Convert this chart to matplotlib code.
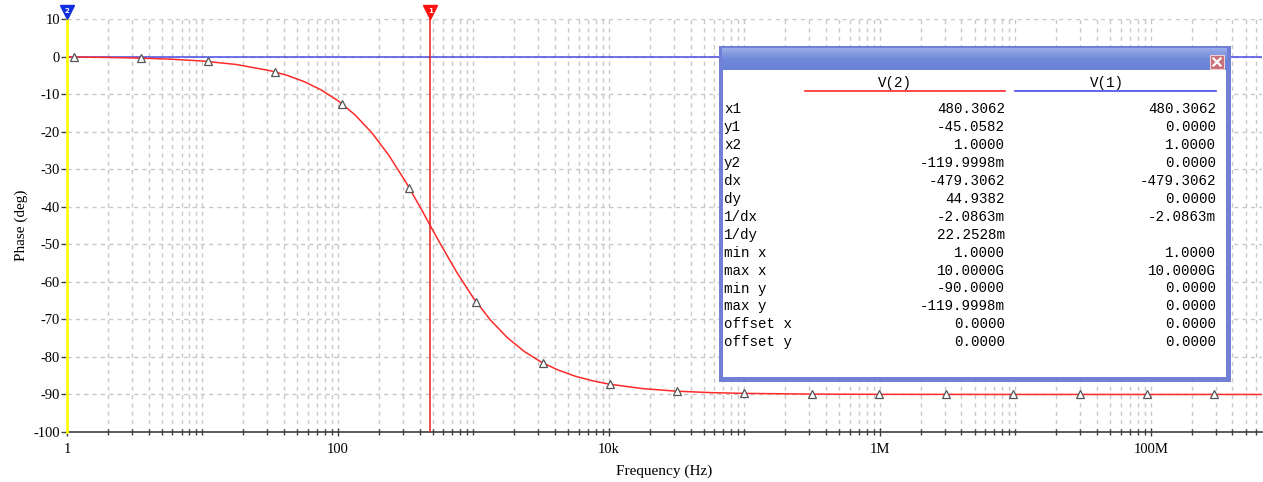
import numpy as np
import matplotlib
matplotlib.use("Agg")
import matplotlib.pyplot as plt
from matplotlib.patches import Rectangle
from matplotlib.ticker import FixedLocator, FixedFormatter, NullFormatter

plt.rcParams['axes.unicode_minus'] = False

# trace V(2): phase
freq = [1, 1.78, 3.16, 5.62, 10, 17.8, 31.6, 42.2, 56.2, 75.0, 100, 133.4, 178,
        237.1, 316, 421.7, 480.3, 562, 749.9, 1000, 1334, 1780, 2371, 3160, 4217,
        5620, 7499, 10000, 17783, 31600, 56234, 1e5, 3.16e5, 1e6, 1e7, 1e8, 6.6e8]
phase_v2 = [-0.12, -0.21, -0.38, -0.67, -1.19, -2.12, -3.77, -5.02, -6.67, -8.87,
            -11.76, -15.52, -20.32, -26.28, -33.36, -41.29, -45.06, -49.51, -57.36,
            -64.35, -70.19, -74.89, -78.55, -81.37, -83.50, -85.12, -86.33, -87.25,
            -88.45, -89.13, -89.51, -89.72, -89.91, -89.97, -90.0, -90.0, -90.0]
# triangle markers on the V(2) trace
mark_freq = [1.12, 3.51, 11.0, 34.3, 107, 335, 1047, 3273, 10233, 31989, 1e5,
             3.13e5, 9.77e5, 3.05e6, 9.55e6, 2.99e7, 9.33e7, 2.92e8]
mark_phase = [-0.13, -0.42, -1.31, -4.08, -12.6, -34.9, -65.4, -81.6, -87.3, -89.14,
              -89.72, -89.91, -89.97, -90.0, -90.0, -90.0, -90.0, -90.0]
# trace V(1)
phase_v1 = 0.0
# cursors
cursor1 = 480.3062
cursor2 = 1.0

xticks = [1, 100, 1e4, 1e6, 1e8]
xticklabels = ['1', '100', '10k', '1M', '100M']
yticks = list(range(-100, 11, 10))

# cursor readout table
rows = ['x1', 'y1', 'x2', 'y2', 'dx', 'dy', '1/dx', '1/dy', 'min x', 'max x',
        'min y', 'max y', 'offset x', 'offset y']
vals_v2 = ['480.3062', '-45.0582', '1.0000', '-119.9998m', '-479.3062', '44.9382',
           '-2.0863m', '22.2528m', '1.0000', '10.0000G', '-90.0000', '-119.9998m',
           '0.0000', '0.0000']
vals_v1 = ['480.3062', '0.0000', '1.0000', '0.0000', '-479.3062', '0.0000',
           '-2.0863m', '', '1.0000', '10.0000G', '0.0000', '0.0000',
           '0.0000', '0.0000']

W, H = 1263, 482
fig = plt.figure(figsize=(W / 100, H / 100), dpi=100)
ax = fig.add_axes([67 / W, 50 / H, (1262 - 67) / W, (432 - 19) / H])

ax.set_xscale('log')
ax.set_xlim(1, 10 ** 8.82)
ax.set_ylim(-100, 10)

# grid
minor = [m * 10 ** e for e in range(0, 9) for m in range(1, 10)]
for f in minor:
    if f > 1:
        ax.axvline(f, color='#c8c8c8', lw=1, ls=(0, (3, 3)), zorder=0)
for y in yticks:
    if y > -100:
        ax.axhline(y, color='#c8c8c8', lw=1, ls=(0, (3, 3)), zorder=0)

# traces
ax.axhline(phase_v1, color='#4a4ae6', lw=1.1, zorder=2)
ax.plot(freq, phase_v2, color='#ff2a2a', lw=1.1, zorder=3)
ax.plot(mark_freq, mark_phase, ls='none', marker='^', ms=6, mfc='white',
        mec='#555555', mew=0.9, zorder=4)

# cursors
ax.axvline(cursor2, color='#ffff00', lw=2, zorder=5, clip_on=False)
ax.axvline(cursor1, color='#e82020', lw=1.1, zorder=5)
ax.plot([cursor1, cursor1], [10, 11.8], color='#e82020', lw=1.1, clip_on=False, zorder=5)
ax.plot([cursor2, cursor2], [10, 11.8], color='#ffff00', lw=2, clip_on=False, zorder=5)
ax.plot([cursor1], [11.9], marker='v', ms=10, color='#ff1010', clip_on=False, zorder=6)
ax.text(cursor1, 12.1, '1', color='white', fontsize=5, ha='center', va='center',
        fontweight='bold', clip_on=False, zorder=7)
ax.plot([cursor2], [11.9], marker='v', ms=10, color='#1030e0', clip_on=False, zorder=6)
ax.text(cursor2, 12.1, '2', color='white', fontsize=5, ha='center', va='center',
        fontweight='bold', clip_on=False, zorder=7)

# axes styling
for s in ['top', 'right', 'left']:
    ax.spines[s].set_visible(False)
ax.spines['bottom'].set_color('#404040')
ax.spines['bottom'].set_linewidth(1.2)

ax.xaxis.set_major_locator(FixedLocator(xticks))
ax.xaxis.set_major_formatter(FixedFormatter(xticklabels))
ax.xaxis.set_minor_locator(FixedLocator([f for f in minor if f not in xticks]))
ax.xaxis.set_minor_formatter(NullFormatter())
ax.tick_params(axis='x', which='major', direction='inout', length=6, width=1,
               color='#404040', labelsize=10.5, pad=5)
ax.tick_params(axis='x', which='minor', direction='inout', length=4, width=1,
               color='#404040')
ax.set_yticks(yticks)
ax.tick_params(axis='y', direction='out', length=4, width=1, color='#404040',
               labelsize=10.5, pad=1)
for lab in ax.get_xticklabels() + ax.get_yticklabels():
    lab.set_family('Liberation Serif')

ax.set_xlabel('Frequency (Hz)', family='Liberation Serif', fontsize=11, labelpad=6)
ax.set_ylabel('Phase (deg)', family='Liberation Serif', fontsize=11, labelpad=4)

# cursor readout window
bx0, by0, bx1, by1 = 719, 46, 1231, 382
bw, bh = bx1 - bx0, by1 - by0
box = fig.add_axes([bx0 / W, 1 - by1 / H, bw / W, bh / H])
box.set_xlim(0, bw)
box.set_ylim(bh, 0)
box.axis('off')
box.add_patch(Rectangle((0, 0), bw, bh, fc='#6f80d6', ec='none'))
grad = np.linspace(0, 1, 64).reshape(-1, 1)
box.imshow(grad, cmap=matplotlib.colors.LinearSegmentedColormap.from_list(
    'tb', ['#9aaee8', '#7088da', '#6a82d6']), extent=(3, bw - 4, 24, 2),
    aspect='auto', zorder=1)
box.add_patch(Rectangle((4, 24), bw - 9, bh - 29, fc='white', ec='none', zorder=2))
box.add_patch(Rectangle((491, 9), 14, 14, fc='#c8707a', ec='#f0d0d0', lw=0.8, zorder=3))
box.plot([494.5, 501.5], [12.5, 19.5], color='white', lw=1.6, zorder=4)
box.plot([494.5, 501.5], [19.5, 12.5], color='white', lw=1.6, zorder=4)

mono = 'Liberation Mono'
box.text(176, 37, 'V(2)', family=mono, fontsize=10.2, ha='center', va='center', zorder=5)
box.plot([86, 286], [45, 45], color='#ff2a2a', lw=1.2, zorder=5)
box.text(388, 37, 'V(1)', family=mono, fontsize=10.2, ha='center', va='center', zorder=5)
box.plot([296, 497], [45, 45], color='#4a4ae6', lw=1.2, zorder=5)
for i, name in enumerate(rows):
    y = 63 + i * 17.95
    box.text(5, y, name, family=mono, fontsize=10.2, ha='left', va='center', zorder=5)
    box.text(286, y, vals_v2[i], family=mono, fontsize=10.2, ha='right', va='center', zorder=5)
    box.text(497, y, vals_v1[i], family=mono, fontsize=10.2, ha='right', va='center', zorder=5)

fig.savefig('out.png', dpi=100, facecolor='white')
